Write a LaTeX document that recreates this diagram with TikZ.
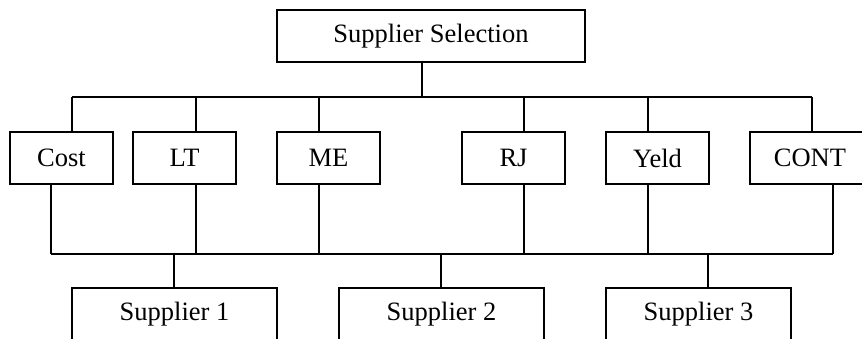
\documentclass[tikz,border=0pt]{standalone}
\usepackage{fontspec}
\setmainfont{Liberation Serif}
\usetikzlibrary{calc}

\tikzset{
  critbox/.style={draw,line width=1.3pt,inner sep=0pt,minimum height=52pt,font=\fontsize{26.5}{30}\selectfont},
  link/.style={line width=1.3pt}
}

\begin{document}
\begin{tikzpicture}[x=1pt,y=-1pt]
      \useasboundingbox (0,0) rectangle (862,338);
      \clip (0,0) rectangle (862,338);

      \node[critbox,minimum width=308pt] (goal) at (431,36) {Supplier Selection};

      \node[critbox,minimum width=103pt] (cost) at (61.5,158) {Cost};
      \node[critbox,minimum width=103pt] (lt) at (184.5,158) {LT};
      \node[critbox,minimum width=103pt] (me) at (328.5,158) {ME};
      \node[critbox,minimum width=103pt] (rj) at (513.5,158) {RJ};
      \node[critbox,minimum width=103pt] (yeld) at (657.5,158) {Yeld};
      \node[critbox,minimum width=120pt] (cont) at (810,158) {CONT};

      \node[critbox,minimum width=205pt] (sone) at (174.5,314) {Supplier 1};
      \node[critbox,minimum width=205pt] (stwo) at (441.5,314) {Supplier 2};
      \node[critbox,minimum width=185pt] (sthree) at (698.5,314) {Supplier 3};

      \coordinate (busup) at (0,97);
      \coordinate (busdown) at (0,254);

      % goal to criteria
      \draw[link] (422,0 |- goal.south) -- (422,0 |- busup);
      \draw[link] (72,0 |- busup) -- (812,0 |- busup);
      \foreach \n/\x in {cost/72,lt/196,me/319,rj/524,yeld/648,cont/812}
        \draw[link] (\x,0 |- busup) -- (\x,0 |- \n.north);

      % criteria to suppliers
      \foreach \n/\x in {cost/51,lt/196,me/319,rj/524,yeld/648,cont/833}
        \draw[link] (\x,0 |- \n.south) -- (\x,0 |- busdown);
      \draw[link] (51,0 |- busdown) -- (833,0 |- busdown);
      \foreach \n/\x in {sone/174,stwo/441,sthree/708}
        \draw[link] (\x,0 |- busdown) -- (\x,0 |- \n.north);
    \end{tikzpicture}
\end{document}
